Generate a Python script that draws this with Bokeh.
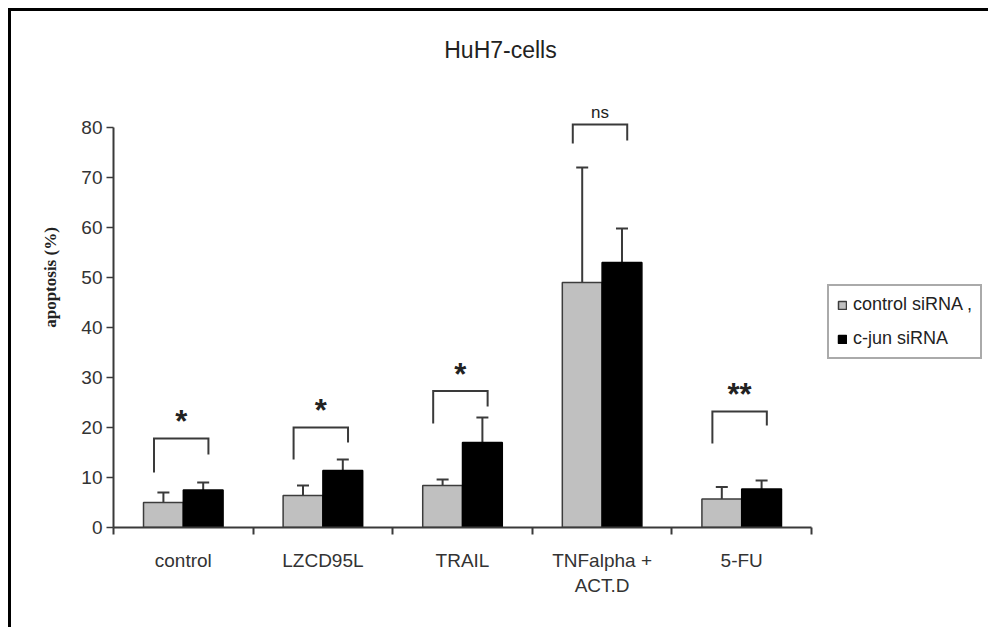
from bokeh.plotting import figure
from bokeh.models import (Range1d, FixedTicker, Whisker, TeeHead, ColumnDataSource,
                          Legend, LegendItem, Label)
from bokeh.embed import file_html
from bokeh.resources import INLINE
from bokeh.core.properties import value

# ---- data ----
categories = ["control", "LZCD95L", "TRAIL", "TNFalpha +\nACT.D", "5-FU"]
series_names = ["control siRNA ,", "c-jun siRNA"]
control_sirna = [5.0, 6.4, 8.4, 49.0, 5.7]
control_sirna_sd = [2.0, 2.0, 1.2, 23.0, 2.4]
cjun_sirna = [7.5, 11.4, 17.0, 53.0, 7.7]
cjun_sirna_sd = [1.5, 2.2, 5.0, 6.8, 1.7]
sig_labels = ["*", "*", "*", "ns", "**"]
bracket_top = [17.8, 20.0, 27.3, 80.6, 23.2]
bracket_left_end = [11.0, 13.6, 20.8, 76.8, 16.8]
bracket_right_end = [14.6, 17.0, 24.2, 77.4, 20.4]
y_ticks = [0, 10, 20, 30, 40, 50, 60, 70, 80]
title_text = "HuH7-cells"
y_label = "apoptosis (%)"

# ---- layout constants ----
N = len(categories)
centers = [i + 0.5 for i in range(N)]
DODGE = 0.1425
BAR_W = 0.285
BR_L, BR_R = 0.29, 0.68
AX = "#3a3a3a"
FIG_W, FIG_H = 980, 619
LEFT = 102
FRAME_W = FIG_W - LEFT   # frame spans to the right edge (legend lives inside it)
AXIS_W = 698             # px used by the five categories
X_END = N * FRAME_W / AXIS_W

p = figure(width=FIG_W, height=FIG_H, x_range=Range1d(0, X_END), y_range=Range1d(0, 100),
           output_backend="svg", toolbar_location=None, title=None,
           min_border_left=LEFT, min_border_right=0, min_border_top=16,
           min_border_bottom=FIG_H - 16 - 500)
p.styles = {"border-top": "3px solid black", "border-left": "3px solid black",
            "margin-top": "8px", "margin-left": "8px"}
p.outline_line_color = None
p.xgrid.visible = False
p.ygrid.visible = False
p.background_fill_color = "white"
p.border_fill_color = "white"

x_ctrl = [c - DODGE for c in centers]
x_jun = [c + DODGE for c in centers]

r1 = p.vbar(x=x_ctrl, top=control_sirna, width=BAR_W, fill_color="#c0c0c0",
            line_color="#3c3c3c", line_width=1.5)
r2 = p.vbar(x=x_jun, top=cjun_sirna, width=BAR_W, fill_color="black",
            line_color="black", line_width=1.5)

for xs, m, sd in ((x_ctrl, control_sirna, control_sirna_sd), (x_jun, cjun_sirna, cjun_sirna_sd)):
    src = ColumnDataSource(dict(base=xs, lower=m, upper=[a + b for a, b in zip(m, sd)]))
    p.add_layout(Whisker(source=src, base="base", lower="lower", upper="upper",
                         line_color=AX, line_width=2,
                         upper_head=TeeHead(size=12, line_color=AX, line_width=2),
                         lower_head=None))

# significance brackets (category i spans [i, i+1])
bxs = [[i + BR_L, i + BR_L, i + BR_R, i + BR_R] for i in range(N)]
bys = [[l, t, t, r] for l, t, r in zip(bracket_left_end, bracket_top, bracket_right_end)]
p.multi_line(xs=bxs, ys=bys, line_color=AX, line_width=2, line_join="miter")

sig_src = ColumnDataSource(dict(
    x=[i + (BR_L + BR_R) / 2 for i in range(N)],
    y=bracket_top,
    text=sig_labels,
    size=["31px" if "*" in s else "17px" for s in sig_labels],
    style=["bold" if "*" in s else "normal" for s in sig_labels],
    yoff=[-17 if "*" in s else -12 for s in sig_labels],
))
p.text(x="x", y="y", text="text", source=sig_src, text_align="center",
       text_baseline="alphabetic", text_font=value("Liberation Sans"),
       text_font_size="size", text_font_style="style", y_offset="yoff", text_color="#222222")

p.add_layout(Label(x=2.772, y=95.6, text=title_text, text_align="center",
                   text_baseline="alphabetic", text_font="Liberation Sans",
                   text_font_size="23px", text_color="#222222"))

# y axis
yax = p.yaxis[0]
yax.ticker = FixedTicker(ticks=y_ticks)
yax.bounds = (0, 80)
yax.major_tick_out = 7
yax.major_tick_in = 0
yax.major_tick_line_width = 1.5
yax.major_tick_line_color = AX
yax.minor_tick_line_color = None
yax.axis_line_width = 2
yax.axis_line_color = AX
yax.major_label_text_font = "Liberation Sans"
yax.major_label_text_font_size = "19px"
yax.major_label_text_color = "#333333"
yax.major_label_standoff = 4
yax.axis_label = y_label
yax.axis_label_text_font = "Liberation Serif"
yax.axis_label_text_font_style = "bold"
yax.axis_label_text_font_size = "17px"
yax.axis_label_text_color = "#222222"
yax.axis_label_standoff = 18

# x axis
xax = p.xaxis[0]
xax.ticker = FixedTicker(ticks=centers, minor_ticks=list(range(N + 1)))
xax.bounds = (0, N)
xax.major_label_overrides = {c: cat for c, cat in zip(centers, categories)}
xax.major_tick_line_color = None
xax.major_tick_out = 0
xax.major_tick_in = 0
xax.minor_tick_out = 7
xax.minor_tick_in = 0
xax.minor_tick_line_width = 2
xax.minor_tick_line_color = AX
xax.axis_line_width = 2
xax.axis_line_color = AX
xax.major_label_text_font = "Liberation Sans"
xax.major_label_text_font_size = "19px"
xax.major_label_text_color = "#333333"
xax.major_label_standoff = 15

legend = Legend(items=[LegendItem(label=series_names[0], renderers=[r1]),
                       LegendItem(label=series_names[1], renderers=[r2])],
                location=(714, 168), glyph_width=10, glyph_height=10, label_standoff=6,
                spacing=13, padding=8, label_height=20, label_text_font="Liberation Sans",
                label_text_font_size="18px", label_text_color="#222222",
                border_line_color="#555555", border_line_width=2, margin=0,
                background_fill_alpha=1)
p.add_layout(legend)

open("out.html", "w").write(file_html(p, INLINE))
